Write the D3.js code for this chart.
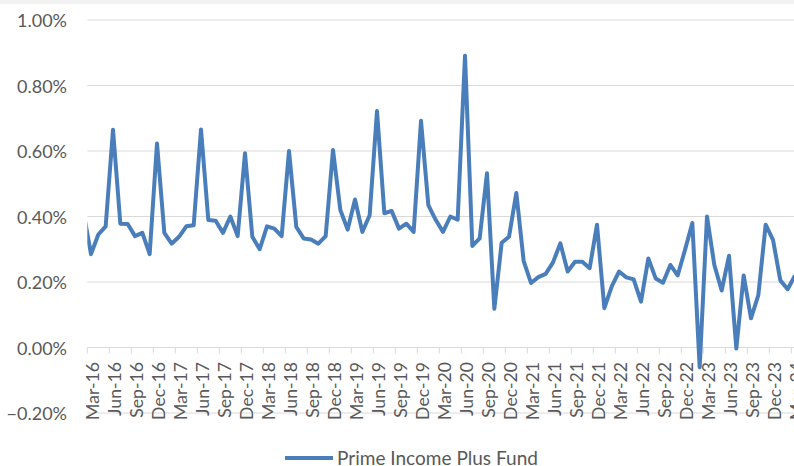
<!DOCTYPE html>
<html>
<head>
<meta charset="utf-8">
<script src="https://cdn.jsdelivr.net/npm/d3@7"></script>
<style>
  html, body { margin: 0; padding: 0; background: #fff; }
  svg { display: block; }
  text { font-family: Lato, "Open Sans", sans-serif; fill: #595959; }
</style>
</head>
<body>
<svg id="chart" width="794" height="466"></svg>
<script>
// ---- data ----
const months = [
  "Feb-16","Mar-16","Apr-16","May-16","Jun-16","Jul-16","Aug-16","Sep-16","Oct-16","Nov-16","Dec-16",
  "Jan-17","Feb-17","Mar-17","Apr-17","May-17","Jun-17","Jul-17","Aug-17","Sep-17","Oct-17","Nov-17","Dec-17",
  "Jan-18","Feb-18","Mar-18","Apr-18","May-18","Jun-18","Jul-18","Aug-18","Sep-18","Oct-18","Nov-18","Dec-18",
  "Jan-19","Feb-19","Mar-19","Apr-19","May-19","Jun-19","Jul-19","Aug-19","Sep-19","Oct-19","Nov-19","Dec-19",
  "Jan-20","Feb-20","Mar-20","Apr-20","May-20","Jun-20","Jul-20","Aug-20","Sep-20","Oct-20","Nov-20","Dec-20",
  "Jan-21","Feb-21","Mar-21","Apr-21","May-21","Jun-21","Jul-21","Aug-21","Sep-21","Oct-21","Nov-21","Dec-21",
  "Jan-22","Feb-22","Mar-22","Apr-22","May-22","Jun-22","Jul-22","Aug-22","Sep-22","Oct-22","Nov-22","Dec-22",
  "Jan-23","Feb-23","Mar-23","Apr-23","May-23","Jun-23","Jul-23","Aug-23","Sep-23","Oct-23","Nov-23","Dec-23",
  "Jan-24","Feb-24","Mar-24"
];
const returns = [
  0.41, 0.285, 0.345, 0.37, 0.665, 0.378, 0.377, 0.34, 0.35, 0.285, 0.623,
  0.35, 0.317, 0.338, 0.37, 0.373, 0.666, 0.389, 0.387, 0.35, 0.40, 0.34, 0.593,
  0.338, 0.30, 0.37, 0.363, 0.34, 0.60, 0.368, 0.333, 0.33, 0.317, 0.34, 0.603,
  0.42, 0.36, 0.452, 0.353, 0.404, 0.722, 0.41, 0.417, 0.363, 0.378, 0.353, 0.692,
  0.435, 0.39, 0.353, 0.40, 0.39, 0.891, 0.31, 0.333, 0.532, 0.118, 0.32, 0.338,
  0.472, 0.264, 0.197, 0.215, 0.225, 0.26, 0.318, 0.232, 0.262, 0.262, 0.242, 0.375,
  0.12, 0.186, 0.232, 0.214, 0.208, 0.14, 0.272, 0.211, 0.198, 0.252, 0.22, 0.298,
  0.38, -0.06, 0.40, 0.252, 0.174, 0.28, -0.003, 0.22, 0.089, 0.16, 0.375, 0.329,
  0.205, 0.178, 0.22
];
const yTicks = [-0.2, 0, 0.2, 0.4, 0.6, 0.8, 1.0];
const tickLabels = [
  "Mar-16","Jun-16","Sep-16","Dec-16","Mar-17","Jun-17","Sep-17","Dec-17",
  "Mar-18","Jun-18","Sep-18","Dec-18","Mar-19","Jun-19","Sep-19","Dec-19",
  "Mar-20","Jun-20","Sep-20","Dec-20","Mar-21","Jun-21","Sep-21","Dec-21",
  "Mar-22","Jun-22","Sep-22","Dec-22","Mar-23","Jun-23","Sep-23","Dec-23","Mar-24"
];
const seriesName = "Prime Income Plus Fund";

// ---- layout ----
const W = 794, H = 466;
const svg = d3.select("#chart");
const plotLeft = 87.3;
const x = d3.scalePoint().domain(months).range([83.67, 795]);
const step = x.step();
const y = d3.scaleLinear().domain([-0.2, 1.0]).range([413, 20]);
const lineColor = "#4a7ebb";

// top band
svg.append("rect").attr("x", 0).attr("y", 0).attr("width", W).attr("height", 4).attr("fill", "#f2f2f2");

// fit helper
function fit(sel, target, base) {
  sel.style("font-size", base + "px");
  const len = sel.node().getComputedTextLength();
  sel.style("font-size", (base * target / len).toFixed(2) + "px");
}

// gridlines
svg.append("g").selectAll("line").data(yTicks).join("line")
  .attr("x1", plotLeft).attr("x2", W)
  .attr("y1", d => y(d)).attr("y2", d => y(d))
  .attr("stroke", "#d9d9d9").attr("stroke-width", 1);

// y labels
const yl = svg.append("g").selectAll("text").data(yTicks).join("text")
  .attr("x", 67).attr("y", d => y(d))
  .attr("text-anchor", "end").attr("dominant-baseline", "central")
  .text(d => d3.format(".2%")(d / 100));
yl.each(function(d) { if (d === 1.0) fit(d3.select(this), 50, 15); });
const ySize = d3.select(yl.nodes()[yl.nodes().length - 1]).style("font-size");
yl.style("font-size", ySize);

// x tick marks (between months)
svg.append("g").selectAll("line").data(tickLabels).join("line")
  .attr("x1", d => x(d) - step / 2).attr("x2", d => x(d) - step / 2)
  .attr("y1", y(0)).attr("y2", y(0) + 6)
  .attr("stroke", "#d9d9d9").attr("stroke-width", 1);

// x labels
const xl = svg.append("g").selectAll("text").data(tickLabels).join("text")
  .attr("transform", d => `translate(${x(d) + 1},362) rotate(-90)`)
  .attr("text-anchor", "end").attr("dominant-baseline", "central")
  .text(d => d);
fit(d3.select(xl.nodes()[0]), 58, 15);
const xSize = d3.select(xl.nodes()[0]).style("font-size");
xl.style("font-size", xSize);

// line
svg.append("clipPath").attr("id", "clip").append("rect")
  .attr("x", plotLeft).attr("y", 0).attr("width", W - plotLeft).attr("height", H);
const line = d3.line().x((d, i) => x(months[i])).y(d => y(d));
svg.append("path").datum(returns)
  .attr("clip-path", "url(#clip)")
  .attr("d", line)
  .attr("fill", "none").attr("stroke", lineColor)
  .attr("stroke-width", 4).attr("stroke-linejoin", "round");

// legend
svg.append("line").attr("x1", 285).attr("x2", 333).attr("y1", 458).attr("y2", 458)
  .attr("stroke", lineColor).attr("stroke-width", 4);
const lt = svg.append("text").attr("x", 337).attr("y", 457)
  .attr("dominant-baseline", "central").text(seriesName);
fit(lt, 201, 16);
</script>
</body>
</html>
